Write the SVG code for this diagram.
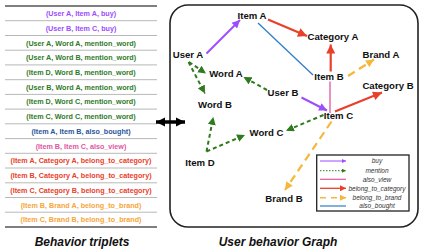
<svg xmlns="http://www.w3.org/2000/svg" width="423" height="251" viewBox="0 0 423 251">
<defs>
<style>
.row{font-family:"Liberation Sans",Arial,sans-serif;font-weight:bold;font-size:7.2px;text-anchor:middle}
.sep{stroke:#b8b8b8;stroke-width:1}
.node{font-family:"Liberation Sans",Arial,sans-serif;font-weight:bold;font-size:9.6px;fill:#111;text-anchor:middle}
.title{font-family:"Liberation Sans",Arial,sans-serif;font-weight:bold;font-style:italic;font-size:12px;fill:#111;text-anchor:middle}
.leg{font-family:"Liberation Sans",Arial,sans-serif;font-style:italic;font-size:6.5px;fill:#333;text-anchor:middle}
.buy{stroke:#9b4dff;stroke-width:2;fill:none}
.mention{stroke:#2f7a1f;stroke-width:2;stroke-dasharray:4 3;fill:none}
.view{stroke:#e0569f;stroke-width:1.3;fill:none}
.cat{stroke:#e8402a;stroke-width:2.2;fill:none}
.brand{stroke:#f6b73a;stroke-width:2.2;stroke-dasharray:8 5;fill:none}
.bought{stroke:#2f7dc8;stroke-width:1.3;fill:none}
</style>
<marker id="hp" viewBox="0 0 10 10" refX="10" refY="5" markerWidth="9" markerHeight="8" markerUnits="userSpaceOnUse" orient="auto"><path d="M0,0L10,5L0,10z" fill="#9b4dff"/></marker>
<marker id="hr" viewBox="0 0 10 10" refX="10" refY="5" markerWidth="10" markerHeight="9" markerUnits="userSpaceOnUse" orient="auto"><path d="M0,0L10,5L0,10z" fill="#e8402a"/></marker>
<marker id="hg" viewBox="0 0 10 10" refX="10" refY="5" markerWidth="8" markerHeight="8" markerUnits="userSpaceOnUse" orient="auto"><path d="M0,0L10,5L0,10z" fill="#2f7a1f"/></marker>
<marker id="ho" viewBox="0 0 10 10" refX="10" refY="5" markerWidth="9" markerHeight="8" markerUnits="userSpaceOnUse" orient="auto"><path d="M0,0L10,5L0,10z" fill="#f6b73a"/></marker>
<marker id="hk" viewBox="0 0 10 10" refX="10" refY="5" markerWidth="9" markerHeight="10" markerUnits="userSpaceOnUse" orient="auto-start-reverse"><path d="M0,0L10,5L0,10z" fill="#000"/></marker>
<marker id="lp" viewBox="0 0 10 10" refX="10" refY="5" markerWidth="5" markerHeight="4" markerUnits="userSpaceOnUse" orient="auto"><path d="M0,0L10,5L0,10z" fill="#9b4dff"/></marker>
<marker id="lg" viewBox="0 0 10 10" refX="10" refY="5" markerWidth="4" markerHeight="4" markerUnits="userSpaceOnUse" orient="auto"><path d="M0,0L10,5L0,10z" fill="#2f7a1f"/></marker>
<marker id="lr" viewBox="0 0 10 10" refX="10" refY="5" markerWidth="6" markerHeight="6" markerUnits="userSpaceOnUse" orient="auto"><path d="M0,0L10,5L0,10z" fill="#e8402a"/></marker>
<marker id="lo" viewBox="0 0 10 10" refX="10" refY="5" markerWidth="6" markerHeight="6" markerUnits="userSpaceOnUse" orient="auto"><path d="M0,0L10,5L0,10z" fill="#f6b73a"/></marker>
</defs>
<rect width="423" height="251" fill="#fff"/>

<g id="triplets">
<line x1="5" y1="6" x2="157" y2="6" stroke="#555" stroke-width="1.5"/>
<line class="sep" x1="5" y1="20.7" x2="157" y2="20.7"/>
<line class="sep" x1="5" y1="35.5" x2="157" y2="35.5"/>
<line class="sep" x1="5" y1="50.2" x2="157" y2="50.2"/>
<line class="sep" x1="5" y1="64.9" x2="157" y2="64.9"/>
<line class="sep" x1="5" y1="79.7" x2="157" y2="79.7"/>
<line class="sep" x1="5" y1="94.4" x2="157" y2="94.4"/>
<line class="sep" x1="5" y1="109.1" x2="157" y2="109.1"/>
<line class="sep" x1="5" y1="123.8" x2="157" y2="123.8"/>
<line class="sep" x1="5" y1="138.6" x2="157" y2="138.6"/>
<line class="sep" x1="5" y1="153.3" x2="157" y2="153.3"/>
<line class="sep" x1="5" y1="168" x2="157" y2="168"/>
<line class="sep" x1="5" y1="182.8" x2="157" y2="182.8"/>
<line class="sep" x1="5" y1="197.5" x2="157" y2="197.5"/>
<line class="sep" x1="5" y1="212.2" x2="157" y2="212.2"/>
<line x1="5" y1="227" x2="157" y2="227" stroke="#555" stroke-width="1.5"/>
<text class="row" x="81" y="16" fill="#9b4dff">(User A, Item A, buy)</text>
<text class="row" x="81" y="30.7" fill="#9b4dff">(User B, Item C, buy)</text>
<text class="row" x="81" y="45.5" fill="#2f7a1f">(User A, Word A, mention_word)</text>
<text class="row" x="81" y="60.2" fill="#2f7a1f">(User A, Word B, mention_word)</text>
<text class="row" x="81" y="74.9" fill="#2f7a1f">(Item D, Word B, mention_word)</text>
<text class="row" x="81" y="89.7" fill="#2f7a1f">(User B, Word A, mention_word)</text>
<text class="row" x="81" y="104.4" fill="#2f7a1f">(Item D, Word C, mention_word)</text>
<text class="row" x="81" y="119.1" fill="#2f7a1f">(Item C, Word C, mention_word)</text>
<text class="row" x="81" y="133.8" fill="#2a5599">(Item A, Item B, also_bought)</text>
<text class="row" x="81" y="148.6" fill="#e0569f">(Item B, Item C, also_view)</text>
<text class="row" x="81" y="163.3" fill="#e8402a">(Item A, Category A, belong_to_category)</text>
<text class="row" x="81" y="178" fill="#e8402a">(Item B, Category A, belong_to_category)</text>
<text class="row" x="81" y="192.8" fill="#e8402a">(Item C, Category B, belong_to_category)</text>
<text class="row" x="81" y="207.5" fill="#f6a63a">(Item B, Brand A, belong_to_brand)</text>
<text class="row" x="81" y="222.2" fill="#f6a63a">(Item C, Brand B, belong_to_brand)</text>
<text class="title" x="82" y="246">Behavior triplets</text>
</g>

<g id="graph-frame">
<rect x="170" y="5" width="248" height="222" rx="18" fill="none" stroke="#222" stroke-width="1.6"/>
<text class="title" x="278" y="246">User behavior Graph</text>
</g>

<g id="link-arrow">
<line x1="156" y1="122" x2="185" y2="122" stroke="#000" stroke-width="3.5" marker-start="url(#hk)" marker-end="url(#hk)"/>
</g>

<g id="connectors">
<line class="buy" x1="206.5" y1="53.5" x2="240" y2="20" marker-end="url(#hp)"/>
<line class="cat" x1="268" y1="19.5" x2="307" y2="36" marker-end="url(#hr)"/>
<line class="bought" x1="258" y1="23" x2="313" y2="75"/>
<line class="cat" x1="330.7" y1="71.5" x2="330.7" y2="44.5" marker-end="url(#hr)"/>
<line class="brand" x1="348" y1="76" x2="374" y2="59.5" marker-end="url(#ho)"/>
<line class="view" x1="330" y1="81.5" x2="330" y2="113"/>
<line class="buy" x1="301.5" y1="97.5" x2="327" y2="110.5" marker-end="url(#hp)"/>
<line class="cat" x1="335" y1="111.5" x2="382" y2="92.5" marker-end="url(#hr)"/>
<line class="mention" x1="267" y1="90" x2="243.5" y2="77" marker-end="url(#hg)"/>
<line class="mention" x1="189" y1="62" x2="206" y2="73.5" marker-end="url(#hg)"/>
<line class="mention" x1="188.5" y1="62" x2="205" y2="93.5" marker-end="url(#hg)"/>
<line class="mention" x1="206.5" y1="151.5" x2="213.3" y2="117" marker-end="url(#hg)"/>
<line class="mention" x1="206.5" y1="151.5" x2="245" y2="135" marker-end="url(#hg)"/>
<line class="mention" x1="323.5" y1="115" x2="286" y2="130.7" marker-end="url(#hg)"/>
<line class="brand" x1="331.5" y1="121.5" x2="285" y2="190" marker-end="url(#ho)"/>
</g>

<g id="node-item-a"><text class="node" x="252" y="19.4">Item A</text></g>
<g id="node-category-a"><text class="node" x="333" y="40">Category A</text></g>
<g id="node-user-a"><text class="node" x="188" y="58.4">User A</text></g>
<g id="node-brand-a"><text class="node" x="381" y="57.7">Brand A</text></g>
<g id="node-word-a"><text class="node" x="226" y="76.7">Word A</text></g>
<g id="node-item-b"><text class="node" x="329" y="80">Item B</text></g>
<g id="node-category-b"><text class="node" x="388" y="89.4">Category B</text></g>
<g id="node-user-b"><text class="node" x="283" y="95.7">User B</text></g>
<g id="node-word-b"><text class="node" x="215" y="108">Word B</text></g>
<g id="node-item-c"><text class="node" x="338.5" y="119">Item C</text></g>
<g id="node-word-c"><text class="node" x="266.5" y="136">Word C</text></g>
<g id="node-item-d"><text class="node" x="200" y="166">Item D</text></g>
<g id="node-brand-b"><text class="node" x="284" y="201.7">Brand B</text></g>

<g id="legend">
<rect x="316.7" y="155" width="92.3" height="56" fill="#fff" stroke="#222" stroke-width="1.3"/>
<line x1="320" y1="161" x2="346" y2="161" stroke="#9b4dff" stroke-width="1" marker-end="url(#lp)"/>
<line x1="320" y1="170.7" x2="346" y2="170.7" stroke="#2f7a1f" stroke-width="1" stroke-dasharray="1.5 1.5" marker-end="url(#lg)"/>
<line x1="320" y1="179.3" x2="346" y2="179.3" stroke="#e0569f" stroke-width="1.2"/>
<line x1="320" y1="188.3" x2="346" y2="188.3" stroke="#e8402a" stroke-width="1.3" marker-end="url(#lr)"/>
<line x1="320" y1="197.7" x2="346" y2="197.7" stroke="#f6b73a" stroke-width="1.5" stroke-dasharray="6 5" marker-end="url(#lo)"/>
<line x1="320" y1="206" x2="346" y2="206" stroke="#2f7dc8" stroke-width="1.2"/>
<text class="leg" x="377" y="163.3">buy</text>
<text class="leg" x="377" y="173">mention</text>
<text class="leg" x="377" y="181.6">also_view</text>
<text class="leg" x="377" y="190.6">belong_to_category</text>
<text class="leg" x="377" y="200">belong_to_brand</text>
<text class="leg" x="377" y="208.3">also_bought</text>
</g>
</svg>
